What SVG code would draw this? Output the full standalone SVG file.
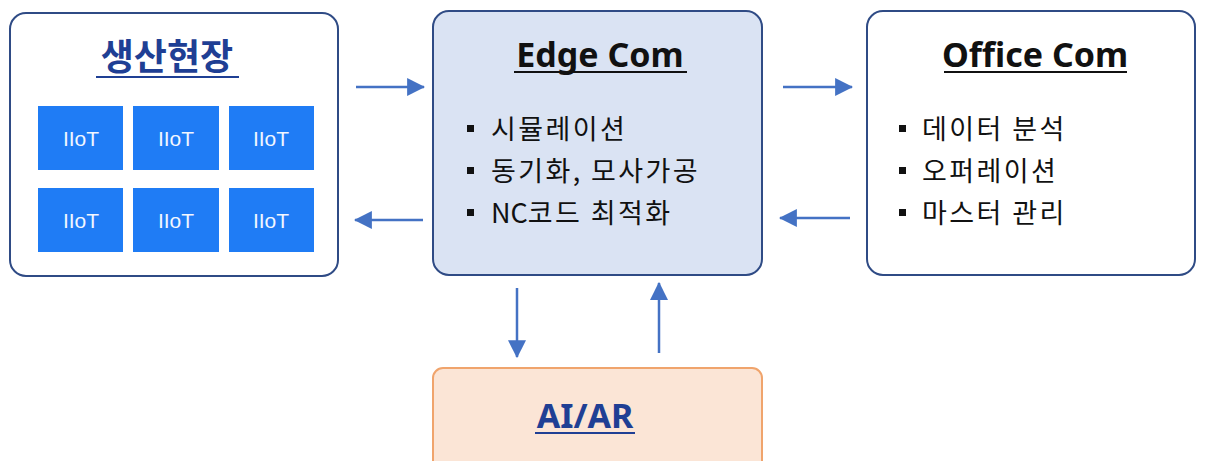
<svg xmlns="http://www.w3.org/2000/svg" width="1205" height="461" viewBox="0 0 1205 461">
<defs>
<marker id="ah" markerUnits="userSpaceOnUse" markerWidth="18" markerHeight="18" viewBox="0 0 16 16" refX="15" refY="8" orient="auto">
<path d="M0,0 L16,8 L0,16 Z" fill="#4472c4"/>
</marker>
<style>
.box{stroke:#2f4b85;stroke-width:2}
.title{font-family:"Noto Sans","Noto Sans CJK KR",sans-serif;font-weight:bold;text-anchor:middle}
.item{font-family:"Noto Sans CJK KR","Noto Sans",sans-serif;font-size:27px;letter-spacing:2.4px;fill:#111}
.iiot{fill:#1f7cf5}
.iiott{font-family:"Liberation Sans",Arial,sans-serif;font-size:21px;fill:#f2f6ff;text-anchor:middle}
.conn{stroke:#4472c4;stroke-width:2.5;fill:none;marker-end:url(#ah)}
.bul{fill:#111}
</style>
</defs>
<rect width="1205" height="461" fill="#ffffff"/>

<g id="field">
<rect class="box" x="10" y="13" width="328" height="263" rx="16" fill="#ffffff"/>
<text class="title" x="167" y="70" font-size="36" fill="#1f3f94" font-family="Noto Sans CJK KR, sans-serif">생산현장</text>
<rect x="96" y="76" width="143" height="2" fill="#1f3f94"/>
<rect class="iiot" x="38" y="106" width="85" height="64"/>
<rect class="iiot" x="133" y="106" width="86" height="64"/>
<rect class="iiot" x="229" y="106" width="85" height="64"/>
<rect class="iiot" x="38" y="188" width="85" height="64"/>
<rect class="iiot" x="133" y="188" width="86" height="64"/>
<rect class="iiot" x="229" y="188" width="85" height="64"/>
<text class="iiott" x="81" y="146">IIoT</text>
<text class="iiott" x="176" y="146">IIoT</text>
<text class="iiott" x="271" y="146">IIoT</text>
<text class="iiott" x="81" y="228">IIoT</text>
<text class="iiott" x="176" y="228">IIoT</text>
<text class="iiott" x="271" y="228">IIoT</text>
</g>

<g id="edge">
<rect class="box" x="433" y="11" width="329" height="264" rx="16" fill="#dae3f3"/>
<text class="title" x="600" y="67" font-size="34" fill="#111">Edge Com</text>
<rect x="514" y="71" width="173" height="2" fill="#111"/>
<rect class="bul" x="467" y="125" width="7" height="7"/>
<rect class="bul" x="467" y="167" width="7" height="7"/>
<rect class="bul" x="467" y="209" width="7" height="7"/>
<text class="item" x="491" y="139">시뮬레이션</text>
<text class="item" x="491" y="181">동기화, 모사가공</text>
<text class="item" x="491" y="223"><tspan letter-spacing="0">NC</tspan>코드 최적화</text>
</g>

<g id="office">
<rect class="box" x="867" y="11" width="328" height="264" rx="16" fill="#ffffff"/>
<text class="title" x="1035" y="67" font-size="34" fill="#111">Office Com</text>
<rect x="944" y="71" width="183" height="2" fill="#111"/>
<rect class="bul" x="899" y="125" width="7" height="7"/>
<rect class="bul" x="899" y="167" width="7" height="7"/>
<rect class="bul" x="899" y="209" width="7" height="7"/>
<text class="item" x="922" y="139">데이터 분석</text>
<text class="item" x="922" y="181">오퍼레이션</text>
<text class="item" x="922" y="223">마스터 관리</text>
</g>

<g id="aiar">
<rect x="433" y="368" width="329" height="110" rx="10" fill="#fbe5d6" stroke="#f0a46c" stroke-width="2"/>
<text class="title" x="585" y="428" font-size="34" fill="#1f3f94">AI/AR</text>
<rect x="535" y="432" width="100" height="2" fill="#1f3f94"/>
</g>

<g id="connectors">
<line class="conn" x1="356" y1="87" x2="424" y2="87"/>
<line class="conn" x1="423" y1="220" x2="355" y2="220"/>
<line class="conn" x1="783" y1="87" x2="852" y2="87"/>
<line class="conn" x1="850" y1="218" x2="780" y2="218"/>
<line class="conn" x1="517" y1="288" x2="517" y2="357"/>
<line class="conn" x1="659" y1="353" x2="659" y2="283"/>
</g>
</svg>
